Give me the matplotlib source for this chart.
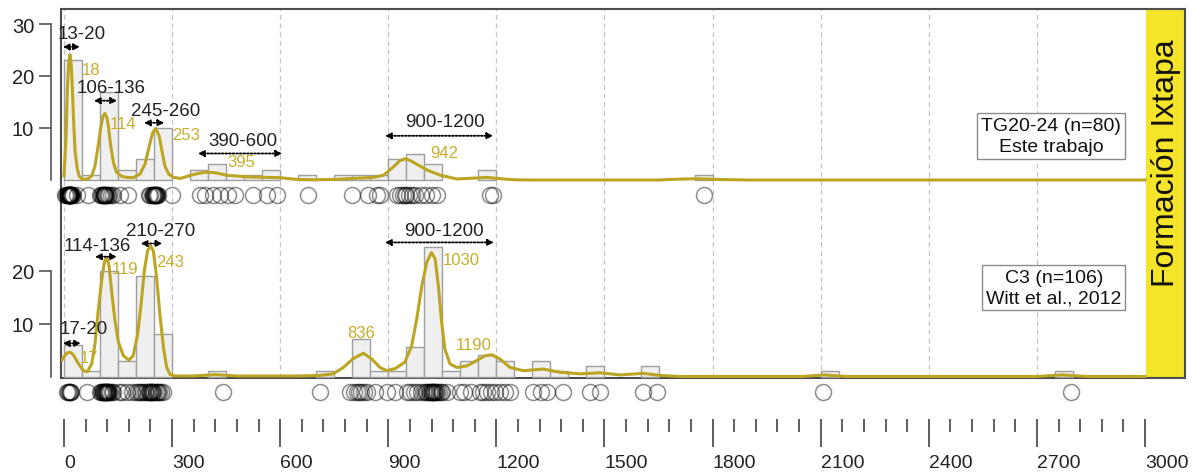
import numpy as np
import matplotlib
matplotlib.use("Agg")
from matplotlib import pyplot as plt

plt.rcParams['font.family'] = ['Liberation Sans', 'DejaVu Sans']

# ---- datos ----
# histogramas (ancho de clase 50 Ma)
top_bins = [0, 50, 100, 150, 200, 250, 350, 400, 450, 500, 550, 650, 750, 800, 850, 900, 950, 1000, 1150, 1750]
top_counts = [23, 1, 17, 2, 4, 10, 2, 3, 1, 1, 2, 1, 1, 1, 1, 4, 5, 3, 2, 1]

bot_bins = [0, 50, 100, 150, 200, 250, 400, 700, 800, 850, 900, 950, 1000, 1050, 1100, 1150, 1200, 1300, 1350, 1450, 1600, 2100, 2750]
bot_counts = [6, 1, 20, 3, 19, 8, 1, 1, 7, 1, 1, 5.5, 24.5, 1, 3, 4, 3, 3, 1, 2, 2, 1, 1]

# curvas KDE (edad, valor)
top_kde_age = [0, 5.5, 9.3, 13, 16.7, 20.4, 24, 27.7, 31, 37, 42.5, 50, 58, 68, 77, 86, 95, 102, 108,
               113.6, 119, 123, 129.6, 137, 146, 160, 175, 192, 211, 225, 237, 246, 254.5, 264, 271,
               280, 290.6, 304, 323, 351, 375, 396, 420, 453, 508, 564, 600, 619, 647, 693, 748, 803,
               859, 886, 914, 932, 947, 962, 980, 1008, 1045, 1091, 1133, 1174, 1202, 1248, 1295,
               1650, 1700, 1760, 1820, 1900, 3000]
top_kde_val = [0.8, 7.8, 17.4, 22.5, 24.1, 21.9, 16.1, 9.75, 5.3, 2.1, 0.7, 0.2, 0.1, 0.3, 0.8, 2.7, 6.6,
               10.1, 12.2, 12.8, 12.0, 10.4, 6.6, 3.4, 1.5, 0.7, 0.5, 0.45, 1.15, 3.1, 6.6, 9.1, 9.9, 8.5,
               5.9, 2.7, 1.15, 0.5, 0.3, 0.9, 1.3, 1.5, 1.4, 0.9, 0.6, 0.5, 0.45, 0.3, 0.1, 0.05, 0.1,
               0.3, 0.5, 0.9, 2.5, 3.7, 4.1, 3.7, 3.0, 1.9, 0.9, 0.2, 0.35, 0.5, 0.3, 0.05, 0.0,
               0.0, 0.15, 0.25, 0.1, 0.0, 0.0]

bot_kde_age = [-6, 0, 7.4, 16.7, 26, 40, 54, 65, 77, 86, 95, 105, 112, 118.5, 125, 132, 141.5, 151, 165,
               180, 192, 204.5, 214, 223, 232, 240, 248, 257, 266, 276, 285, 294, 308, 360, 420, 480,
               650, 710, 747, 775, 803, 831, 854, 877, 896, 919, 946, 965, 979, 993, 1007, 1020, 1030,
               1039, 1048, 1057, 1071, 1090, 1118, 1145, 1168, 1187, 1210, 1238, 1275, 1330, 1377,
               1432, 1488, 1543, 1608, 1654, 1710, 2050, 2110, 2170, 2700, 2770, 2840, 3000]
bot_kde_val = [3.1, 3.7, 4.4, 4.6, 4.1, 2.4, 1.1, 0.9, 2.4, 6.1, 12.4, 18.4, 21.6, 22.5, 20.9, 16.2, 10.5,
               6.5, 3.9, 3.1, 3.9, 8.0, 13.7, 20.0, 23.7, 24.7, 23.7, 18.7, 11.8, 5.5, 1.7, 0.4, 0.1,
               0.1, 0.35, 0.1, 0.1, 0.2, 0.5, 1.7, 3.4, 4.4, 3.3, 1.7, 1.1, 1.5, 2.7, 5.8, 10.9, 17.1,
               21.6, 23.4, 22.2, 17.1, 10.2, 5.2, 2.4, 1.7, 2.0, 3.0, 3.9, 4.1, 3.3, 1.7, 1.1, 1.4,
               0.8, 0.5, 0.7, 0.3, 0.6, 0.2, 0.0, 0.0, 0.3, 0.0, 0.0, 0.3, 0.0, 0.0]

# edades individuales (circulos)
top_ages = [3, 6, 8, 10, 11, 12, 13, 14, 14, 15, 15, 16, 16, 17, 17, 18, 18, 19, 19, 20, 22, 25, 35,
            67, 100, 104, 106, 108, 110, 111, 112, 113, 114, 115, 116, 118, 121, 125, 130, 136, 155,
            178, 236, 240, 243, 246, 248, 250, 251, 252, 253, 254, 255, 256, 258, 261, 299, 378, 391,
            414, 433, 456, 475, 525, 563, 590, 678, 798, 844, 868, 877, 923, 932, 940, 945, 950, 958,
            965, 975, 990, 1005, 1020, 1034, 1182, 1191, 1776]
bot_ages = [8, 12, 15, 17, 18, 20, 64, 100, 103, 105, 107, 109, 110, 112, 114, 115, 116, 117, 118, 119,
            120, 121, 123, 125, 128, 132, 136, 152, 160, 175, 190, 200, 205, 210, 215, 220, 225, 228,
            232, 235, 238, 240, 242, 243, 245, 247, 250, 255, 258, 262, 265, 270, 275, 442, 710, 794,
            805, 812, 818, 825, 832, 840, 863, 896, 919, 951, 960, 970, 980, 990, 1000, 1005, 1008,
            1012, 1015, 1018, 1020, 1022, 1024, 1026, 1028, 1030, 1033, 1036, 1040, 1045, 1050, 1062,
            1099, 1110, 1130, 1155, 1163, 1175, 1185, 1195, 1210, 1225, 1238, 1302, 1325, 1340, 1385,
            1460, 1488, 1608, 1646, 2107, 2794]

top_ranges = ["13-20", "106-136", "245-260", "390-600", "900-1200"]
bot_ranges = ["17-20", "114-136", "210-270", "900-1200"]
top_peaks = ["18", "114", "253", "395", "942"]
bot_peaks = ["17", "119", "243", "836", "1030", "1190"]
top_label = "TG20-24 (n=80)\nEste trabajo"
bot_label = "C3 (n=106)\nWitt et al., 2012"
unit_label = "Formación Ixtapa"

# ---- posiciones de anotaciones (texto x, texto y, flecha x0, x1, y) ----
top_range_pos = [(50, 28.1, -3, 44, 25.6), (130, 17.7, 83, 147, 15.25), (283, 13.3, 222, 278, 11.0),
                 (497, 7.5, 372, 605, 5.1), (1056, 11.2, 891, 1191, 8.5)]
bot_range_pos = [(55.5, 9.15, -3, 47, 6.26), (91.6, 24.7, 86, 147, 22.6), (269, 27.5, 213, 273, 25.1),
                 (1055, 27.5, 891, 1193, 25.3)]
top_peak_pos = [(50, 21.2, 'left'), (128, 10.8, 'left'), (300, 8.7, 'left'), (452, 3.5, 'left'),
                (1016, 5.2, 'left')]
bot_peak_pos = [(44, 3.6, 'left'), (133, 20.3, 'left'), (255, 21.7, 'left'), (824, 8.3, 'center'),
                (1051, 22.0, 'left'), (1138, 6.0, 'center')]

W, H = 1197, 477
GOLD = '#BCA522'
GOLD_TXT = '#C6AF2B'
XLIM = (-8.3, 3111)

fig = plt.figure(figsize=(W / 100, H / 100), dpi=100)


def px_axes(x0, y0, x1, y1):
    return fig.add_axes([x0 / W, 1 - y1 / H, (x1 - x0) / W, (y1 - y0) / H])


# marco general
frame = px_axes(61, 10, 1185, 379)
frame.set_xlim(*XLIM)
frame.set_ylim(0, 1)
frame.set_xticks([])
frame.set_yticks([])
for s in frame.spines.values():
    s.set_color('#4d4d4d')
    s.set_linewidth(1.5)
frame.set_zorder(0)
for xv in range(0, 3000, 300):
    frame.axvline(xv, color='#c4c4c4', lw=0.9, dashes=(4, 3), zorder=0)
frame.axvspan(3003, XLIM[1], color='#F4E52A', lw=0, zorder=1)
frame.text(3057, (379 - 163.5) / 369, unit_label, rotation=90, ha='center', va='center',
           fontsize=23, color='#111111', transform=frame.transData)


def panel(ax, bins, counts, kde_age, kde_val, ages, ages_y, ytop, ticks,
          ranges, range_pos, peaks, peak_pos, label, label_xy):
    ax.set_facecolor('none')
    ax.set_zorder(1)
    ax.set_xlim(*XLIM)
    ax.bar(bins, counts, width=50, align='edge', color='#efefef', edgecolor='#9e9e9e', lw=1, zorder=2)
    ax.plot(kde_age, kde_val, color=GOLD, lw=2.2, zorder=3, solid_joinstyle='round')
    ax.plot(ages, [ages_y] * len(ages), ls='none', marker='o', ms=11.5, mfc='none',
            mec=(0, 0, 0, 0.45), mew=1.1, clip_on=False, zorder=3)
    for s in ['top', 'right', 'bottom']:
        ax.spines[s].set_visible(False)
    ax.spines['left'].set_position(('outward', 7.2))
    ax.spines['left'].set_bounds(0, ytop)
    ax.spines['left'].set_color('#555555')
    ax.spines['left'].set_linewidth(1.2)
    ax.set_xticks([])
    ax.set_yticks(ticks)
    ax.tick_params(axis='y', length=8.6, width=1.2, color='#555555', labelsize=14.5,
                   labelcolor='#222222', pad=3.5)
    for txt, (tx, ty, x0, x1, ay) in zip(ranges, range_pos):
        ax.text(tx, ty, txt, ha='center', va='center', fontsize=13.5, color='#222222', zorder=4)
        ax.annotate('', xy=(x1, ay), xytext=(x0, ay),
                    arrowprops=dict(arrowstyle='<|-|>,head_length=0.35,head_width=0.18',
                                    color='black', lw=1.3, linestyle=(0, (1, 1)),
                                    shrinkA=0, shrinkB=0), zorder=4)
    for txt, (px, py, ha) in zip(peaks, peak_pos):
        ax.text(px, py, txt, ha=ha, va='center', fontsize=12, color=GOLD_TXT, zorder=4)
    ax.text(label_xy[0], label_xy[1], label, ha='center', va='center', fontsize=14,
            linespacing=1.25, color='#111111', zorder=5,
            bbox=dict(boxstyle='square,pad=0.2', fc='white', ec='#8a8a8a', lw=1))


top = px_axes(61, 10, 1185, 210)
top.set_ylim(-(210 - 181) / 5.2, (181 - 10) / 5.2)
panel(top, top_bins, top_counts, top_kde_age, top_kde_val, top_ages, (181 - 196) / 5.2, 30,
      [10, 20, 30], top_ranges, top_range_pos, top_peaks, top_peak_pos, top_label, (2739, 8.46))

bot = px_axes(61, 205, 1185, 410)
bot.set_ylim(-(410 - 377.5) / 5.3, (377.5 - 205) / 5.3)
panel(bot, bot_bins, bot_counts, bot_kde_age, bot_kde_val, bot_ages, (377.5 - 393) / 5.3, 20,
      [10, 20], bot_ranges, bot_range_pos, bot_peaks, bot_peak_pos, bot_label, (2747, 16.8))

# escala de edades
scale = px_axes(61, 419, 1185, 420)
scale.set_xlim(*XLIM)
scale.set_facecolor('none')
for s in scale.spines.values():
    s.set_visible(False)
scale.set_yticks([])
scale.set_xticks(range(0, 3001, 300))
scale.set_xticks(range(0, 3001, 60), minor=True)
scale.tick_params(axis='x', which='major', direction='out', length=20, width=1.1, color='#333333',
                  labelsize=14, labelcolor='#222222', pad=5)
scale.tick_params(axis='x', which='minor', direction='out', length=9.6, width=1.1, color='#333333')
for lab in scale.get_xticklabels():
    lab.set_ha('left')

fig.savefig('out.png', dpi=100)
